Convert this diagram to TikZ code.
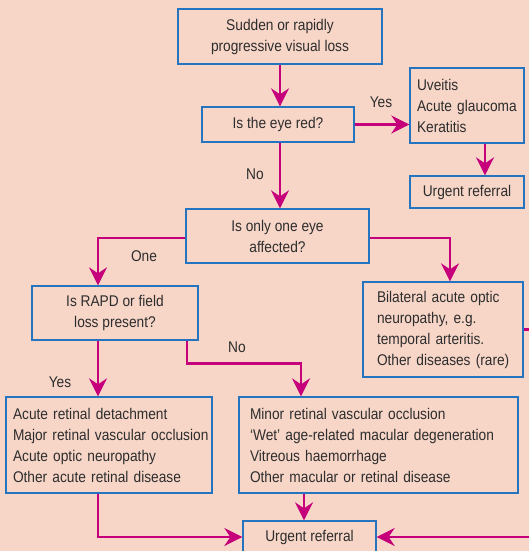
\documentclass[tikz,border=0pt]{standalone}
\usepackage{fontspec}
\setmainfont{Liberation Sans}[FakeStretch=0.885]
\usetikzlibrary{positioning,arrows.meta}
\definecolor{peach}{RGB}{247,214,200}
\definecolor{boxblue}{RGB}{36,116,192}
\definecolor{flowmag}{RGB}{198,0,122}
\definecolor{inkgray}{RGB}{45,45,45}
\tikzset{
  qbox/.style={rectangle,draw=boxblue,line width=1.3pt,align=center,inner sep=0pt},
  lbox/.style={rectangle,draw=boxblue,line width=1.3pt,align=left,inner ysep=0pt},
  flow/.style={draw=flowmag,line width=2.8pt,-{Stealth[length=18pt,width=18pt,inset=6pt]}},
  lbl/.style={inner sep=0pt},
}

\begin{document}
\begin{tikzpicture}[x=1pt,y=-1pt,font=\fontsize{15.5}{21}\selectfont,text=inkgray]
  \useasboundingbox[fill=peach] (0,0) rectangle (529,551);
  % questions
  \node[qbox,minimum width=204pt,minimum height=55pt] (loss) at (280,36.5) {Sudden or rapidly\\progressive visual loss};
  \node[qbox,minimum width=152pt,minimum height=35pt] (red) at (278,124.5) {Is the eye red?};
  \node[qbox,minimum width=183pt,minimum height=54pt] (oneeye) at (277.5,236) {Is only one eye\\affected?};
  \node[qbox,minimum width=166pt,minimum height=54pt] (rapd) at (115,313) {Is RAPD or field\\loss present?};
  % outcomes
  \node[lbox,inner xsep=7pt,text width=100pt,minimum height=75pt] (anterior) at (467,105.5) {Uveitis\\\mbox{Acute glaucoma}\\Keratitis};
  \node[qbox,minimum width=114pt,minimum height=32pt] (refA) at (467,192) {Urgent referral};
  \node[lbox,inner xsep=14pt,text width=132pt,minimum height=95pt] (bilat) at (443,329.5) {Bilateral acute optic\\neuropathy, e.g.\\temporal arteritis.\\\mbox{Other diseases (rare)}};
  \node[lbox,inner xsep=7pt,text width=192pt,minimum height=96pt] (retina) at (109,445) {Acute retinal detachment\\\mbox{Major retinal vascular occlusion}\\Acute optic neuropathy\\Other acute retinal disease};
  \node[lbox,inner xsep=11pt,text width=257pt,minimum height=96pt] (macular) at (378.5,445) {Minor retinal vascular occlusion\\`Wet' age-related macular degeneration\\Vitreous haemorrhage\\Other macular or retinal disease};
  \node[qbox,minimum width=133pt,minimum height=32pt] (refB) at (309.5,537) {Urgent referral};
  % labels
  \node[lbl] (yesred) at (381,102) {Yes};
  \node[lbl] (nored) at (255,174) {No};
  \node[lbl] (onelbl) at (144,256) {One};
  \node[lbl] (yesrapd) at (60,382) {Yes};
  \node[lbl] (norapd) at (237,347) {No};
  % arrows
  \draw[flow] (loss.south) -- (loss.south |- red.north);
  \draw[flow] (red.east) -- (red.east -| anterior.west);
  \draw[flow] ([xshift=18pt]anterior.south) -- ([xshift=18pt]refA.north);
  \draw[flow] ([xshift=2pt]red.south) -- ([xshift=2pt]red.south |- oneeye.north);
  \draw[flow] ([yshift=-2pt]oneeye.west) -| ([xshift=-17pt]rapd.north);
  \draw[flow] ([yshift=-2pt]oneeye.east) -| ([xshift=7pt]bilat.north);
  \draw[flow] (bilat.east) -- ++(12,0) |- (refB.east);
  \draw[flow] ([xshift=-17pt]rapd.south) -- ([xshift=-17pt]rapd.south |- retina.north);
  \draw[flow] ([xshift=72pt]rapd.south) -- ++(0,23) -| ([xshift=-77.5pt]macular.north);
  \draw[flow] ([xshift=-74.5pt]macular.south) -- ([xshift=-74.5pt]macular.south |- refB.north);
  \draw[flow] ([xshift=-11pt]retina.south) |- (refB.west);
\end{tikzpicture}
\end{document}
